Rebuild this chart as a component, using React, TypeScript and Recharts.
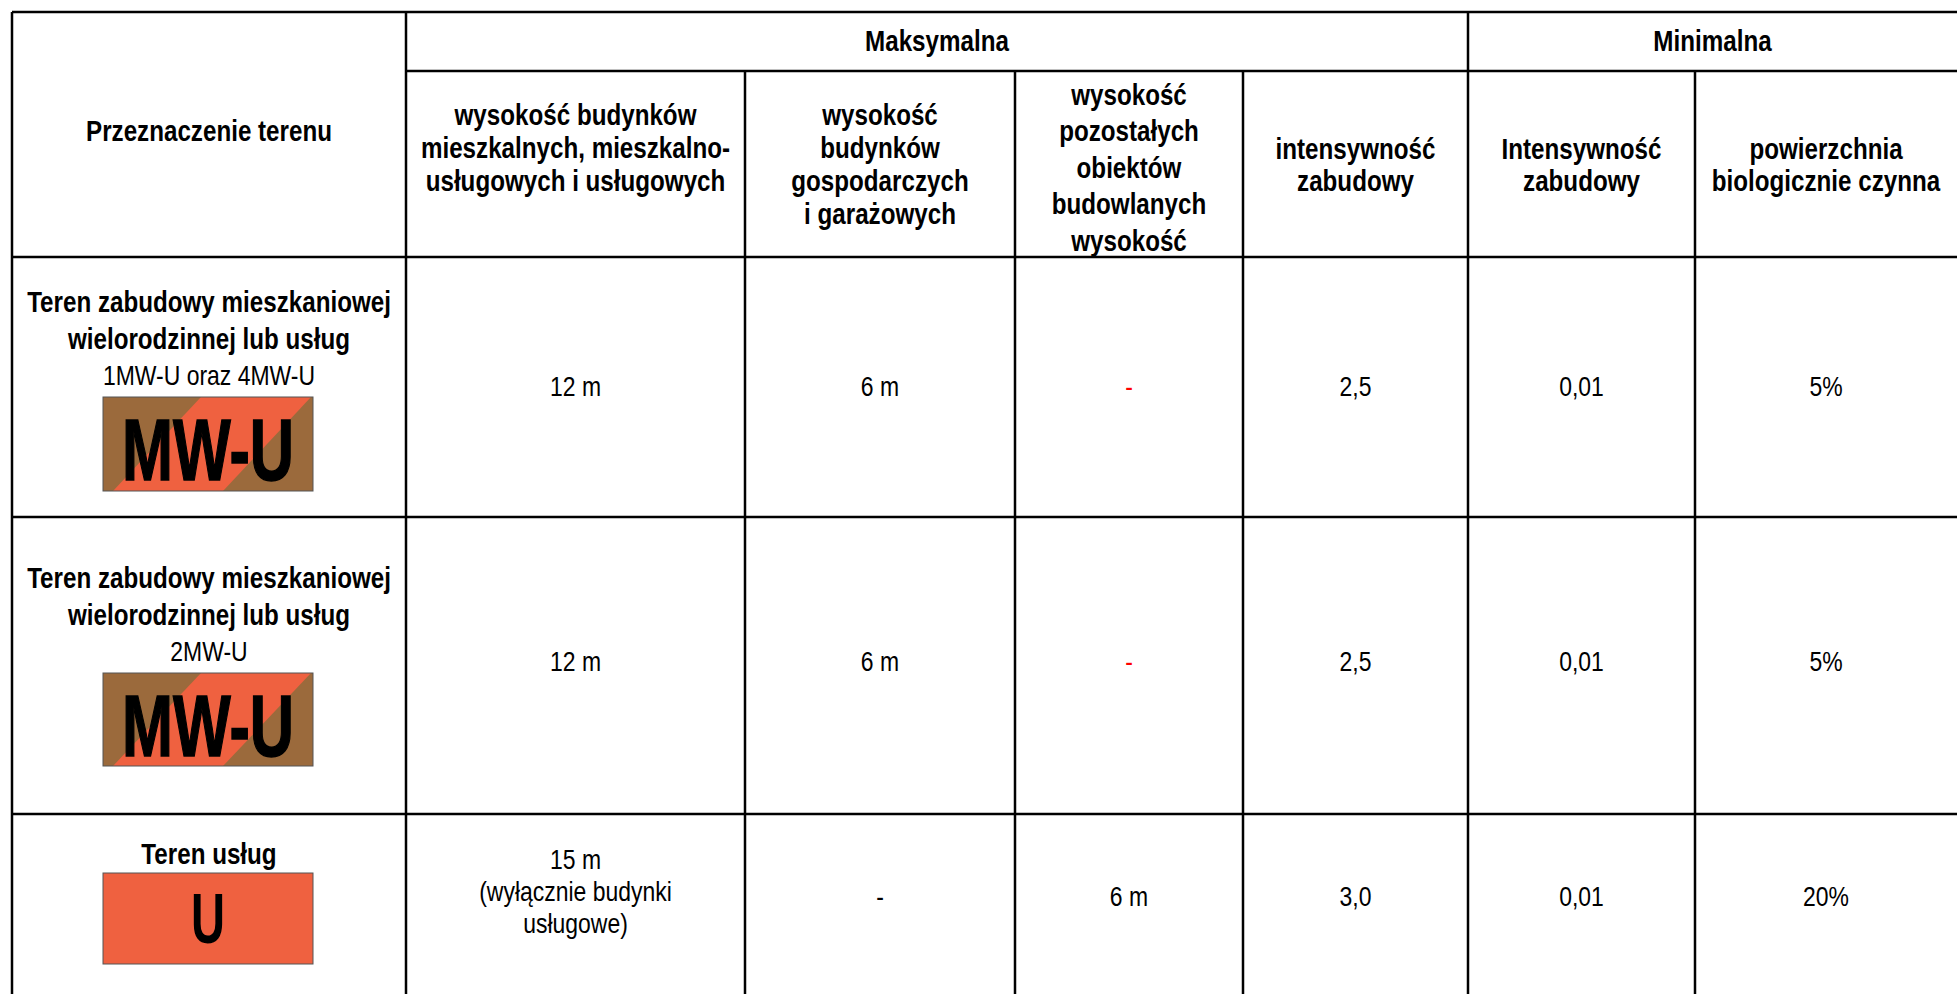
import React from 'react';
import { ScatterChart, Scatter, XAxis, YAxis, ReferenceLine } from 'recharts';

// ---------- data ----------
const firstHeader = 'Przeznaczenie terenu';
const headerGroups = ['Maksymalna', 'Minimalna'];
const columnHeaders: string[][] = [
  ['wysokość budynków', 'mieszkalnych, mieszkalno-', 'usługowych i usługowych'],
  ['wysokość', 'budynków', 'gospodarczych', 'i garażowych'],
  ['wysokość', 'pozostałych', 'obiektów', 'budowlanych', 'wysokość'],
  ['intensywność', 'zabudowy'],
  ['Intensywność', 'zabudowy'],
  ['powierzchnia', 'biologicznie czynna'],
];
const rowTitles: string[][] = [
  ['Teren zabudowy mieszkaniowej', 'wielorodzinnej lub usług'],
  ['Teren zabudowy mieszkaniowej', 'wielorodzinnej lub usług'],
  ['Teren usług'],
];
const rowCodes = ['1MW-U oraz 4MW-U', '2MW-U', ''];
const rowSymbols = ['MW-U', 'MW-U', 'U'];
const maxResidentialHeight: string[][] = [['12 m'], ['12 m'], ['15 m', '(wyłącznie budynki', 'usługowe)']];
const maxOutbuildingHeight = ['6 m', '6 m', '-'];
const maxOtherHeight = ['-', '-', '6 m'];
const maxIntensity = ['2,5', '2,5', '3,0'];
const minIntensity = ['0,01', '0,01', '0,01'];
const minBioActive = ['5%', '5%', '20%'];

// ---------- layout / style ----------
const W = 1957;
const H = 994;
const FONT = "'Liberation Sans', Arial, sans-serif";
const NARROW = 0.82;
const FS = 28;
const FS_BOLD = 29.5;
const colEdges = [12, 406, 745, 1015, 1243, 1468, 1695, 1957];
const rowEdges = [12, 71, 257, 517, 814];
const tableBottom = 994;
const groupSpans = [[1, 5], [5, 7]];
const headerCenters = [147, 164, 167, 164, 164, 164];
const headerLineHeights = [33, 33, 36.5, 32, 32, 32];
const firstHeaderY = 130;
const groupY = 40;
const rowValueY = [386, 661, 896];
const multiLineShift = -5;
const rowTitleTop = [301, 577, 853];
const rowTitleLH = 37;
const badgeTop = [397, 673, 873];
const badgeH = [94, 93, 91];
const BADGE_W = 210;
const BADGE_CX = 208;
const multiLineLH = 32;
const BROWN = '#9B6A3C';
const ORANGE = '#EF6140';
const RED = '#FF0000';
const redCells: Record<string, boolean> = { '0-2': true, '1-2': true };

const colCenter = (i: number) => (colEdges[i] + colEdges[i + 1]) / 2;

type TextCell = { x: number; y: number; lines: string[]; bold: boolean; color: string; lh: number };

const textCells: TextCell[] = [];
textCells.push({ x: colCenter(0), y: firstHeaderY, lines: [firstHeader], bold: true, color: '#000', lh: 33 });
headerGroups.forEach((g, i) => {
  const [a, b] = groupSpans[i];
  textCells.push({ x: (colEdges[a] + colEdges[b]) / 2, y: groupY, lines: [g], bold: true, color: '#000', lh: 33 });
});
columnHeaders.forEach((lines, i) => {
  textCells.push({ x: colCenter(i + 1), y: headerCenters[i], lines, bold: true, color: '#000', lh: headerLineHeights[i] });
});
const valueColumns: string[][][] = [
  maxResidentialHeight,
  maxOutbuildingHeight.map((v) => [v]),
  maxOtherHeight.map((v) => [v]),
  maxIntensity.map((v) => [v]),
  minIntensity.map((v) => [v]),
  minBioActive.map((v) => [v]),
];
rowTitles.forEach((title, r) => {
  title.forEach((line, k) => {
    textCells.push({ x: colCenter(0), y: rowTitleTop[r] + k * rowTitleLH, lines: [line], bold: true, color: '#000', lh: rowTitleLH });
  });
  if (rowCodes[r]) {
    textCells.push({ x: colCenter(0), y: rowTitleTop[r] + title.length * rowTitleLH, lines: [rowCodes[r]], bold: false, color: '#000', lh: rowTitleLH });
  }
  valueColumns.forEach((col, c) => {
    const lines = col[r];
    textCells.push({
      x: colCenter(c + 1),
      y: rowValueY[r] + (lines.length > 1 ? multiLineShift : 0),
      lines,
      bold: false,
      color: redCells[`${r}-${c}`] ? RED : '#000',
      lh: multiLineLH,
    });
  });
});

const badges = rowSymbols.map((s, r) => ({ x: BADGE_CX, y: badgeTop[r] + badgeH[r] / 2, symbol: s, h: badgeH[r] }));

const TextShape = (props: any) => {
  const { cx, cy, payload } = props;
  const { lines, bold, color, lh } = payload as TextCell;
  const n = lines.length;
  const fs = bold ? FS_BOLD : FS;
  return (
    <text
      transform={`translate(${cx} 0) scale(${NARROW} 1)`}
      textAnchor="middle"
      fontFamily={FONT}
      fontSize={fs}
      fontWeight={bold ? 700 : 400}
      fill={color}
    >
      {lines.map((l, i) => (
        <tspan key={i} x={0} y={cy + (i - (n - 1) / 2) * lh + fs * 0.36}>
          {l}
        </tspan>
      ))}
    </text>
  );
};

const BadgeShape = (props: any) => {
  const { cx, cy, payload } = props;
  const h = payload.h;
  const x0 = cx - BADGE_W / 2;
  const y0 = cy - h / 2;
  if (payload.symbol === 'MW-U') {
    return (
      <g>
        <rect x={x0} y={y0} width={BADGE_W} height={h} fill={BROWN} />
        <polygon points={`${x0 + 10},${y0 + h} ${x0 + 98},${y0} ${x0 + 208},${y0} ${x0 + 120},${y0 + h}`} fill={ORANGE} />
        <rect x={x0} y={y0} width={BADGE_W} height={h} fill="none" stroke="#555" strokeWidth={1} />
        <text x={cx} y={y0 + 83} textAnchor="middle" fontFamily={FONT} fontWeight={700} fontSize={88} fill="#000" stroke="#000" strokeWidth={1.5} textLength={172} lengthAdjust="spacingAndGlyphs">
          {payload.symbol}
        </text>
      </g>
    );
  }
  return (
    <g>
      <rect x={x0} y={y0} width={BADGE_W} height={h} fill={ORANGE} stroke="#555" strokeWidth={1} />
      <text x={cx} y={y0 + 70} textAnchor="middle" fontFamily={FONT} fontWeight={700} fontSize={70} fill="#000" textLength={34} lengthAdjust="spacingAndGlyphs">
        {payload.symbol}
      </text>
    </g>
  );
};

type Seg = [{ x: number; y: number }, { x: number; y: number }];
const segments: Seg[] = [];
// horizontal lines
segments.push([{ x: colEdges[0], y: rowEdges[0] }, { x: W, y: rowEdges[0] }]);
segments.push([{ x: colEdges[1], y: rowEdges[1] }, { x: W, y: rowEdges[1] }]);
[2, 3, 4].forEach((i) => segments.push([{ x: colEdges[0], y: rowEdges[i] }, { x: W, y: rowEdges[i] }]));
// vertical lines
[0, 1, 5].forEach((i) => segments.push([{ x: colEdges[i], y: rowEdges[0] }, { x: colEdges[i], y: tableBottom }]));
[2, 3, 4, 6].forEach((i) => segments.push([{ x: colEdges[i], y: rowEdges[1] }, { x: colEdges[i], y: tableBottom }]));

export default function App() {
  return (
    <div style={{ position: 'absolute', left: 0, top: 0, width: W, height: H, background: '#fff' }}>
      <ScatterChart width={W} height={H} margin={{ top: 0, right: 0, bottom: 0, left: 0 }}>
        <XAxis type="number" dataKey="x" domain={[0, W]} hide />
        <YAxis type="number" dataKey="y" domain={[0, H]} reversed hide />
        {segments.map((s, i) => (
          <ReferenceLine key={i} segment={s} stroke="#000" strokeWidth={2.5} ifOverflow="visible" />
        ))}
        <Scatter data={badges} shape={BadgeShape} isAnimationActive={false} />
        <Scatter data={textCells} shape={TextShape} isAnimationActive={false} />
      </ScatterChart>
    </div>
  );
}
